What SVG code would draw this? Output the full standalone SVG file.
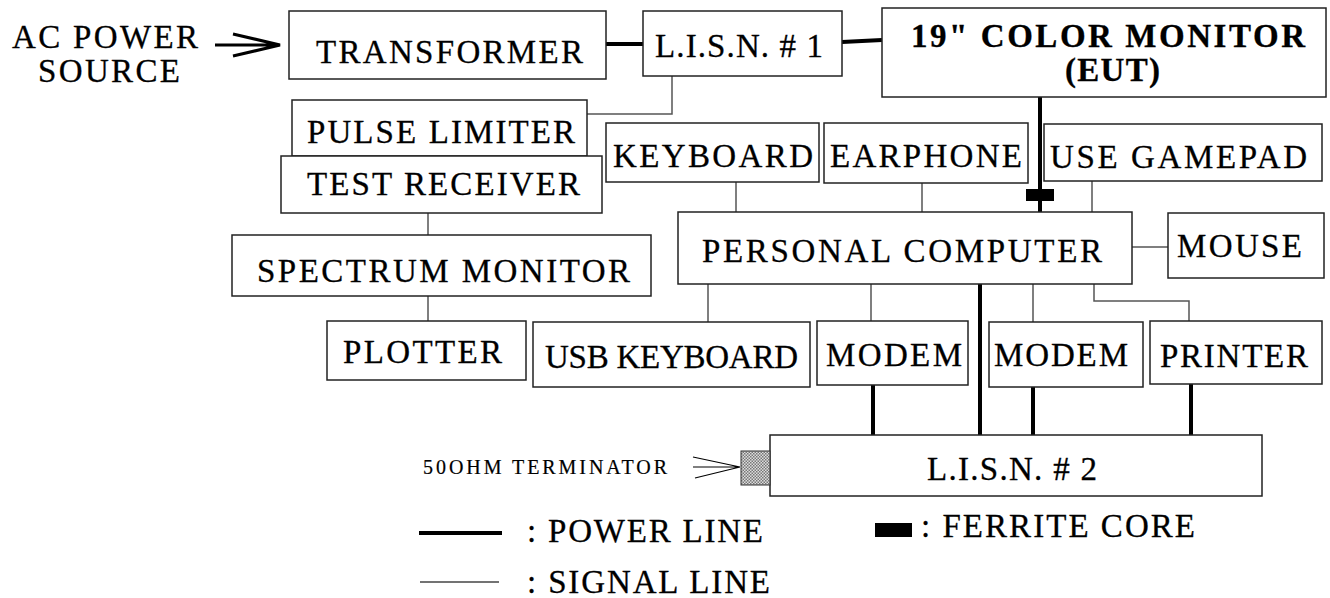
<svg xmlns="http://www.w3.org/2000/svg" width="1330" height="598" viewBox="0 0 1330 598">
<style>
.box{fill:#fff;stroke:#222;stroke-width:1.5}
.t{font-family:"Liberation Serif","Times New Roman","DejaVu Serif",serif;font-size:33px;fill:#000;stroke:#000;stroke-width:0.3}
.b{font-weight:bold}
.sig{fill:none;stroke:#555;stroke-width:1.5}
.pwr{fill:none;stroke:#000;stroke-width:4}
</style>
<defs>
<pattern id="hatch" width="3" height="3" patternUnits="userSpaceOnUse">
<rect width="3" height="3" fill="#ddd"/>
<rect width="1.5" height="1.5" fill="#777"/>
<rect x="1.5" y="1.5" width="1.5" height="1.5" fill="#777"/>
</pattern>
</defs>
<g id="ac-source">
<text class="t" x="12" y="48" textLength="186" lengthAdjust="spacing">AC POWER</text>
<text class="t" x="38" y="82" textLength="142" lengthAdjust="spacing">SOURCE</text>
<path d="M215 45H279M233 34L280 45L233 56" fill="none" stroke="#000" stroke-width="3"/>
</g>
<g id="connectors">
<path class="pwr" d="M606 44H643"/>
<path class="pwr" d="M842 42L882 40"/>
<path class="pwr" d="M1040 97V212"/>
<path class="pwr" d="M980 284V435"/>
<path class="pwr" d="M873 385V435"/>
<path class="pwr" d="M1033 387V435"/>
<path class="pwr" d="M1191 384V435"/>
<path class="sig" d="M672 76V114H587"/>
<path class="sig" d="M428 213V235"/>
<path class="sig" d="M428 296V321"/>
<path class="sig" d="M736 182V212"/>
<path class="sig" d="M922 183V212"/>
<path class="sig" d="M1092 181V212"/>
<path class="sig" d="M1132 247H1168"/>
<path class="sig" d="M708 284V322"/>
<path class="sig" d="M871 284V321"/>
<path class="sig" d="M1033 284V322"/>
<path class="sig" d="M1094 284V301H1189V321"/>
<rect x="1026" y="189" width="28" height="12" fill="#000"/>
</g>
<g id="transformer"><rect class="box" x="289" y="11" width="317" height="68"/><text class="t" x="316" y="63" textLength="267" lengthAdjust="spacing">TRANSFORMER</text></g>
<g id="lisn1"><rect class="box" x="643" y="11" width="199" height="65"/><text class="t" x="655" y="57" textLength="168" lengthAdjust="spacing">L.I.S.N. # 1</text></g>
<g id="monitor"><rect class="box" x="882" y="8" width="444" height="89"/><text class="t b" x="911" y="47" textLength="394" lengthAdjust="spacing">19" COLOR MONITOR</text><text class="t b" x="1065" y="81" textLength="95" lengthAdjust="spacing">(EUT)</text></g>
<g id="pulse-limiter"><rect class="box" x="292" y="100" width="295" height="56"/><text class="t" x="307" y="143" textLength="268" lengthAdjust="spacing">PULSE LIMITER</text></g>
<g id="test-receiver"><rect class="box" x="281" y="156" width="321" height="57"/><text class="t" x="307" y="195" textLength="273" lengthAdjust="spacing">TEST RECEIVER</text></g>
<g id="spectrum-monitor"><rect class="box" x="232" y="235" width="419" height="61"/><text class="t" x="257" y="282" textLength="373" lengthAdjust="spacing">SPECTRUM MONITOR</text></g>
<g id="plotter"><rect class="box" x="327" y="321" width="199" height="59"/><text class="t" x="343" y="363" textLength="159" lengthAdjust="spacing">PLOTTER</text></g>
<g id="usb-keyboard"><rect class="box" x="533" y="322" width="277" height="65"/><text class="t" x="545" y="368" textLength="253" lengthAdjust="spacing">USB KEYBOARD</text></g>
<g id="keyboard"><rect class="box" x="606" y="123" width="213" height="59"/><text class="t" x="613" y="167" textLength="200" lengthAdjust="spacing">KEYBOARD</text></g>
<g id="earphone"><rect class="box" x="824" y="123" width="204" height="60"/><text class="t" x="830" y="167" textLength="192" lengthAdjust="spacing">EARPHONE</text></g>
<g id="gamepad"><rect class="box" x="1044" y="124" width="278" height="57"/><text class="t" x="1050" y="168" textLength="257" lengthAdjust="spacing">USE GAMEPAD</text></g>
<g id="pc"><rect class="box" x="678" y="212" width="454" height="72"/><text class="t" x="702" y="262" textLength="400" lengthAdjust="spacing">PERSONAL COMPUTER</text></g>
<g id="mouse"><rect class="box" x="1168" y="213" width="156" height="65"/><text class="t" x="1177" y="257" textLength="125" lengthAdjust="spacing">MOUSE</text></g>
<g id="modem1"><rect class="box" x="817" y="321" width="151" height="64"/><text class="t" x="826" y="366" textLength="136" lengthAdjust="spacing">MODEM</text></g>
<g id="modem2"><rect class="box" x="989" y="322" width="154" height="65"/><text class="t" x="994" y="366" textLength="134" lengthAdjust="spacing">MODEM</text></g>
<g id="printer"><rect class="box" x="1150" y="321" width="172" height="63"/><text class="t" x="1160" y="367" textLength="148" lengthAdjust="spacing">PRINTER</text></g>
<g id="lisn2"><rect class="box" x="770" y="435" width="492" height="61"/><text class="t" x="927" y="480" textLength="170" lengthAdjust="spacing">L.I.S.N. # 2</text></g>
<g id="terminator">
<rect x="741" y="451" width="29" height="34" fill="url(#hatch)" stroke="#333" stroke-width="1"/>
<text class="t" x="423" y="474" style="font-size:20px;stroke-width:0.2" textLength="244" lengthAdjust="spacing">50OHM TERMINATOR</text>
<path d="M693 457L740 467M693 467H740M695 478L740 467" fill="none" stroke="#000" stroke-width="1.2"/>
</g>
<g id="legend">
<path d="M419 533H502" stroke="#000" stroke-width="4"/>
<text class="t" x="527" y="542" textLength="236" lengthAdjust="spacing">: POWER LINE</text>
<path d="M420 582H499" stroke="#444" stroke-width="1.5"/>
<text class="t" x="527" y="593" textLength="243" lengthAdjust="spacing">: SIGNAL LINE</text>
<rect x="875" y="523" width="37" height="14" fill="#000"/>
<text class="t" x="921" y="537" textLength="274" lengthAdjust="spacing">: FERRITE CORE</text>
</g>
</svg>
